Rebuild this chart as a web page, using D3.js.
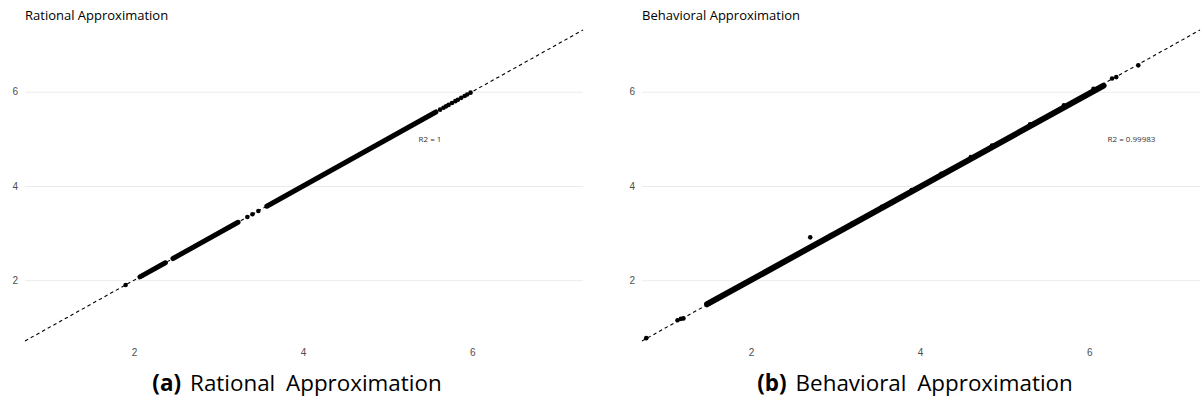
<!DOCTYPE html>
<html>
<head>
<meta charset="utf-8">
<script src="https://cdn.jsdelivr.net/npm/d3@7"></script>
<style>
  body { margin: 0; background: #fff; }
  svg { display: block; font-family: "Open Sans", sans-serif; }
</style>
</head>
<body>
<div id="vis"></div>
<script>
// data
const ticks = [2, 4, 6];
const domain = [0.71, 7.31];

// rational approximation: dense runs along the diagonal + separate points
const rationalRuns = [[2.07, 2.07, 2.37, 2.37], [2.46, 2.46, 3.23, 3.23], [3.57, 3.57, 5.57, 5.57]];
const rationalPoints = [
  [1.90, 1.90], [2.09, 2.09], [3.34, 3.34], [3.40, 3.40], [3.47, 3.47],
  [5.62, 5.62], [5.66, 5.66], [5.69, 5.69], [5.72, 5.72], [5.76, 5.76],
  [5.80, 5.80], [5.83, 5.83], [5.87, 5.87], [5.91, 5.91], [5.94, 5.94], [5.98, 5.98]
];
const rationalR2 = "R2 = 1";

// behavioral approximation
const behavioralRuns = [[1.48, 1.49, 6.17, 6.13]];
const behavioralPoints = [
  [0.76, 0.77], [1.13, 1.15], [1.17, 1.18], [1.20, 1.19], [1.50, 1.51], [1.62, 1.63],
  [2.70, 2.91], [2.95, 2.96], [3.20, 3.21], [3.55, 3.56], [3.90, 3.915], [4.25, 4.26],
  [4.60, 4.615], [4.85, 4.86], [5.30, 5.31], [5.70, 5.71], [6.05, 6.06],
  [6.27, 6.28], [6.32, 6.31], [6.58, 6.56]
];
const behavioralR2 = "R2 = 0.99983";

const panels = [
  { title: "Rational Approximation", tag: "(a)", caption: "Rational Approximation",
    runs: rationalRuns, points: rationalPoints, r2: rationalR2, r2At: [5.5, 5.0],
    left: 25, right: 583, runWidth: 5, capX: 297 },
  { title: "Behavioral Approximation", tag: "(b)", caption: "Behavioral Approximation",
    runs: behavioralRuns, points: behavioralPoints, r2: behavioralR2, r2At: [6.5, 5.0],
    left: 642, right: 1200, runWidth: 6, capX: 915 }
];

const W = 1201, H = 416;
const plotTop = 30, plotBottom = 341;

const svg = d3.select("#vis").append("svg")
  .attr("width", W)
  .attr("height", H);

panels.forEach(p => {
  const x = d3.scaleLinear().domain(domain).range([p.left, p.right]);
  const y = d3.scaleLinear().domain(domain).range([plotBottom, plotTop]);
  const g = svg.append("g");

  // horizontal gridlines + y labels
  const gy = g.append("g")
    .attr("transform", `translate(${p.left},0)`)
    .call(d3.axisLeft(y).tickValues(ticks).tickSize(-(p.right - p.left)).tickPadding(7).tickFormat(d3.format("d")));
  gy.select(".domain").remove();
  gy.selectAll("line").attr("stroke", "#ebebeb").attr("stroke-width", 1);
  gy.selectAll("text").attr("fill", "#4d4d4d").attr("font-size", "10px");

  // x labels
  const gx = g.append("g")
    .attr("transform", `translate(0,${plotBottom})`)
    .call(d3.axisBottom(x).tickValues(ticks).tickSize(0).tickPadding(8).tickFormat(d3.format("d")));
  gx.select(".domain").remove();
  gx.selectAll("text").attr("fill", "#4d4d4d").attr("font-size", "10px");

  // identity line
  g.append("line")
    .attr("x1", x(domain[0])).attr("y1", y(domain[0]))
    .attr("x2", x(domain[1])).attr("y2", y(domain[1]))
    .attr("stroke", "#000")
    .attr("stroke-width", 1.1)
    .attr("stroke-dasharray", "3.5,3");

  // dense runs of points
  g.selectAll(".run")
    .data(p.runs)
    .enter()
    .append("line")
    .attr("class", "run")
    .attr("x1", d => x(d[0])).attr("y1", d => y(d[1]))
    .attr("x2", d => x(d[2])).attr("y2", d => y(d[3]))
    .attr("stroke", "#000")
    .attr("stroke-width", p.runWidth)
    .attr("stroke-linecap", "round");

  g.selectAll(".pt")
    .data(p.points)
    .enter()
    .append("circle")
    .attr("class", "pt")
    .attr("cx", d => x(d[0]))
    .attr("cy", d => y(d[1]))
    .attr("r", 2.3)
    .attr("fill", "#000");

  g.append("text")
    .attr("x", x(p.r2At[0]))
    .attr("y", y(p.r2At[1]))
    .attr("dy", "0.35em")
    .attr("text-anchor", "middle")
    .attr("font-size", "8px")
    .attr("fill", "#333")
    .text(p.r2);

  // panel title
  g.append("text")
    .attr("x", p.left)
    .attr("y", 20)
    .attr("font-size", "13px")
    .attr("fill", "#000")
    .text(p.title);

  // subfigure caption
  const cap = svg.append("text")
    .attr("x", p.capX)
    .attr("y", 391)
    .attr("text-anchor", "middle")
    .attr("font-size", "22.4px")
    .attr("word-spacing", "5px")
    .attr("fill", "#000");
  cap.append("tspan").attr("font-weight", "bold").text(p.tag);
  cap.append("tspan").attr("dx", "9").text(p.caption);
});
</script>
</body>
</html>
